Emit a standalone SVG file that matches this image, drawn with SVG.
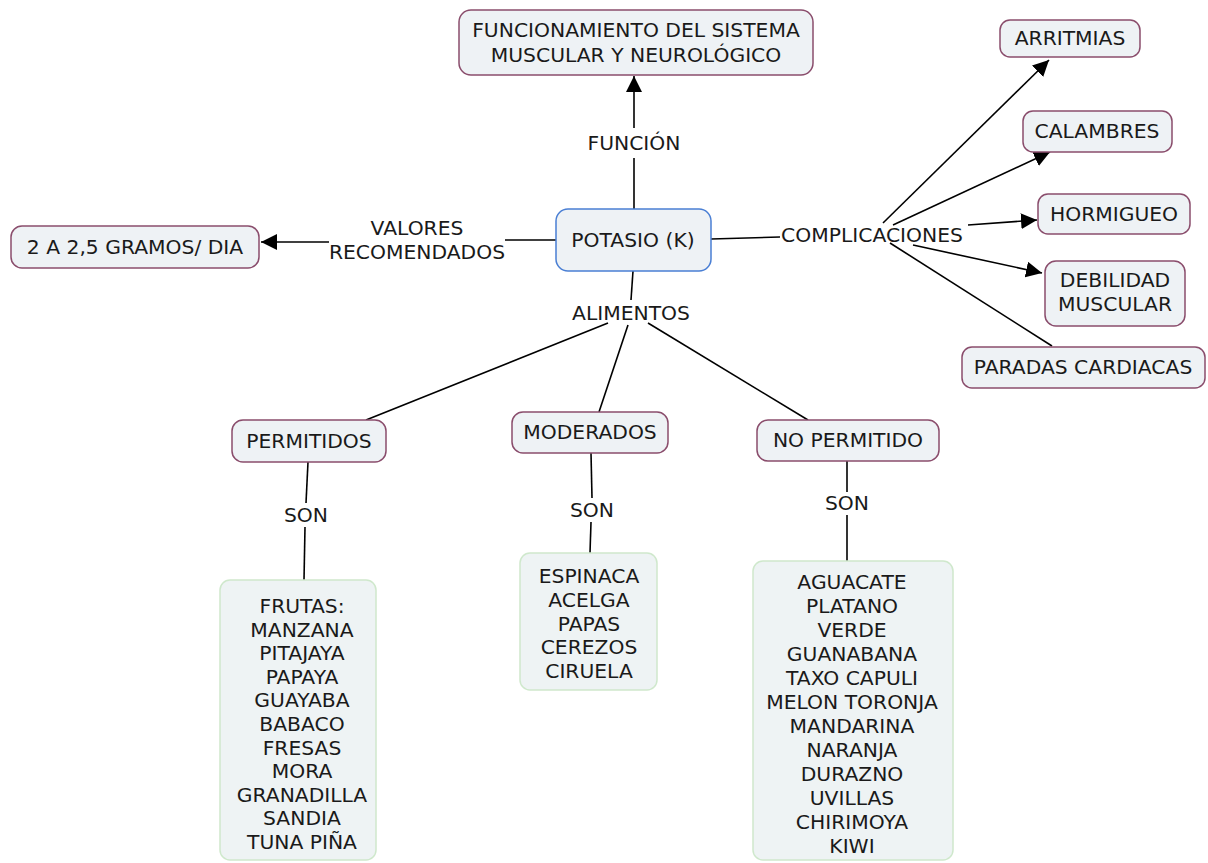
<svg xmlns="http://www.w3.org/2000/svg" width="1208" height="863" viewBox="0 0 1208 863">
<defs>
<marker id="arr" viewBox="0 0 10 10" refX="10" refY="5" markerWidth="16" markerHeight="16" markerUnits="userSpaceOnUse" orient="auto">
<path d="M0,0 L10,5 L0,10 z" fill="#000"/>
</marker>
<style>
.n{fill:#eef2f5;stroke:#8a4d6c;stroke-width:1.5}
.b{fill:#eef2f5;stroke:#4a7fd4;stroke-width:1.5}
.g{fill:#eef3f4;stroke:#cfe8cc;stroke-width:1.5}
text{font-family:"DejaVu Sans",Verdana,sans-serif;font-size:20.3px;fill:#1a1a1a;text-anchor:middle}
.c line{stroke:#000;stroke-width:1.6}
</style>
</defs>
<rect width="1208" height="863" fill="#fff"/>
<g class="c" id="connectors">
<line x1="634" y1="209" x2="634" y2="158"/>
<line x1="634" y1="128" x2="634" y2="76" marker-end="url(#arr)"/>
<line x1="556" y1="240" x2="505" y2="240"/>
<line x1="329" y1="242" x2="261" y2="242" marker-end="url(#arr)"/>
<line x1="711" y1="239" x2="780" y2="237"/>
<line x1="883" y1="223" x2="1049" y2="60" marker-end="url(#arr)"/>
<line x1="893" y1="225" x2="1050" y2="152" marker-end="url(#arr)"/>
<line x1="968" y1="225" x2="1037" y2="220" marker-end="url(#arr)"/>
<line x1="913" y1="245" x2="1042" y2="273" marker-end="url(#arr)"/>
<line x1="890" y1="243" x2="1052" y2="346"/>
<line x1="633" y1="271" x2="631" y2="300"/>
<line x1="608" y1="323" x2="366" y2="420"/>
<line x1="628" y1="325" x2="599" y2="412"/>
<line x1="648" y1="323" x2="808" y2="420"/>
<line x1="308" y1="462" x2="306" y2="503"/>
<line x1="305" y1="527" x2="304" y2="580"/>
<line x1="591" y1="453" x2="592" y2="498"/>
<line x1="591" y1="522" x2="590" y2="553"/>
<line x1="847" y1="461" x2="847" y2="492"/>
<line x1="847" y1="515" x2="847" y2="561"/>
<text x="634" y="150">FUNCIÓN</text>
<text x="417" y="235">VALORES</text>
<text x="417" y="259">RECOMENDADOS</text>
<text x="872" y="242">COMPLICACIONES</text>
<text x="631" y="320">ALIMENTOS</text>
<text x="306" y="522">SON</text>
<text x="592" y="517">SON</text>
<text x="847" y="510">SON</text>
</g>
<g id="funcionamiento">
<rect class="n" x="459" y="10" width="354" height="65" rx="12"/>
<text x="636" y="37">FUNCIONAMIENTO DEL SISTEMA</text>
<text x="636" y="62">MUSCULAR Y NEUROLÓGICO</text>
</g>
<g id="potasio">
<rect class="b" x="556" y="209" width="155" height="62" rx="12"/>
<text x="633" y="247">POTASIO (K)</text>
</g>
<g id="gramos">
<rect class="n" x="11" y="226" width="248" height="42" rx="11"/>
<text x="135" y="254">2 A 2,5 GRAMOS/ DIA</text>
</g>
<g id="arritmias">
<rect class="n" x="1000" y="20" width="140" height="37" rx="10"/>
<text x="1070" y="45">ARRITMIAS</text>
</g>
<g id="calambres">
<rect class="n" x="1023" y="111" width="149" height="41" rx="10"/>
<text x="1097" y="138">CALAMBRES</text>
</g>
<g id="hormigueo">
<rect class="n" x="1038" y="194" width="152" height="40" rx="10"/>
<text x="1114" y="221">HORMIGUEO</text>
</g>
<g id="debilidad">
<rect class="n" x="1045" y="261" width="140" height="65" rx="11"/>
<text x="1115" y="287">DEBILIDAD</text>
<text x="1115" y="311">MUSCULAR</text>
</g>
<g id="paradas">
<rect class="n" x="962" y="347" width="243" height="41" rx="10"/>
<text x="1083" y="374">PARADAS CARDIACAS</text>
</g>
<g id="permitidos">
<rect class="n" x="232" y="420" width="154" height="42" rx="11"/>
<text x="309" y="448">PERMITIDOS</text>
</g>
<g id="moderados">
<rect class="n" x="512" y="412" width="156" height="41" rx="11"/>
<text x="590" y="439">MODERADOS</text>
</g>
<g id="nopermitido">
<rect class="n" x="757" y="420" width="182" height="41" rx="11"/>
<text x="848" y="447">NO PERMITIDO</text>
</g>
<g id="frutas">
<rect class="g" x="220" y="580" width="156" height="280" rx="10"/>
<text x="302" y="613">FRUTAS:</text>
<text x="302" y="637">MANZANA</text>
<text x="302" y="660">PITAJAYA</text>
<text x="302" y="684">PAPAYA</text>
<text x="302" y="707">GUAYABA</text>
<text x="302" y="731">BABACO</text>
<text x="302" y="755">FRESAS</text>
<text x="302" y="778">MORA</text>
<text x="302" y="802">GRANADILLA</text>
<text x="302" y="825">SANDIA</text>
<text x="302" y="849">TUNA PIÑA</text>
</g>
<g id="moderadoslist">
<rect class="g" x="520" y="553" width="137" height="137" rx="10"/>
<text x="589" y="583">ESPINACA</text>
<text x="589" y="607">ACELGA</text>
<text x="589" y="631">PAPAS</text>
<text x="589" y="654">CEREZOS</text>
<text x="589" y="678">CIRUELA</text>
</g>
<g id="nopermitidolist">
<rect class="g" x="753" y="561" width="200" height="299" rx="10"/>
<text x="852" y="589">AGUACATE</text>
<text x="852" y="613">PLATANO</text>
<text x="852" y="637">VERDE</text>
<text x="852" y="661">GUANABANA</text>
<text x="852" y="685">TAXO CAPULI</text>
<text x="852" y="709">MELON TORONJA</text>
<text x="852" y="733">MANDARINA</text>
<text x="852" y="757">NARANJA</text>
<text x="852" y="781">DURAZNO</text>
<text x="852" y="805">UVILLAS</text>
<text x="852" y="829">CHIRIMOYA</text>
<text x="852" y="853">KIWI</text>
</g>
</svg>
